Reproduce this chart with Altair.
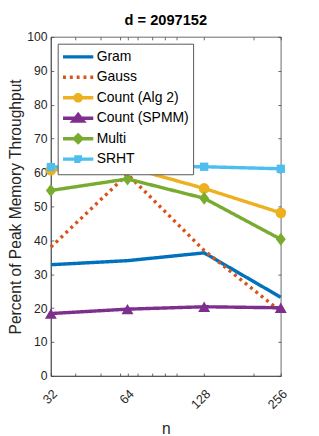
import altair as alt
import pandas as pd

# ---- data ----
n_values = [32, 64, 128, 256]
series_names = ["Gram", "Gauss", "Count (Alg 2)", "Count (SPMM)", "Multi", "SRHT"]
gram = [32.8, 34.0, 36.3, 23.2]
gauss = [38.0, 59.5, 37.0, 19.0]
count_alg2 = [60.7, 61.6, 55.3, 48.1]
count_spmm = [18.4, 19.7, 20.4, 20.1]
multi = [54.7, 58.1, 52.4, 40.3]
srht = [61.6, 61.9, 61.7, 61.1]

colors = ["#0072BD", "#D95319", "#EDB120", "#7E2F8E", "#77AC30", "#4DBEEE"]
dashes = [[1, 0], [3, 4], [1, 0], [1, 0], [1, 0], [1, 0]]
marker_series = ["Count (Alg 2)", "Count (SPMM)", "Multi", "SRHT"]
marker_shapes = ["circle", "triangle-up", "M0,-1.1L0.85,0L0,1.1L-0.85,0Z", "square"]
marker_sizes = [121, 150, 144, 72]
# legend glyphs: a line with the series' marker on it; the zero-length
# segments above/below give every entry the same height
_pad = "M0,-0.5L0,-0.5M0,0.5L0,0.5"
legend_shapes = [
    _pad + "M-2.07,0H2.07",
    _pad + "M-2.07,0H2.07",
    _pad + "M-2.07,0H2.07M-0.42,0A0.42,0.42,0,1,0,0.42,0A0.42,0.42,0,1,0,-0.42,0Z",
    _pad + "M-2.07,0H2.07M0,-0.5L0.7,0.4L-0.7,0.4Z",
    _pad + "M-2.07,0H2.07M0,-0.5L0.5,0L0,0.5L-0.5,0Z",
    _pad + "M-2.07,0H2.07M-0.3,-0.3H0.3V0.3H-0.3Z",
]

y_ticks = list(range(0, 101, 10))
x_major = [32, 64, 128, 256]
x_minor = [32, 40, 50, 60, 64, 70, 80, 90, 100, 128, 200, 256]

all_values = [gram, gauss, count_alg2, count_spmm, multi, srht]
rows = []
for name, vals in zip(series_names, all_values):
    for n, v in zip(n_values, vals):
        rows.append({"n": n, "value": v, "series": name})
df = pd.DataFrame(rows)

FONT = "Liberation Sans"
TXT = "#262626"

xscale = alt.Scale(type="log", base=2, domain=[32, 256], nice=False)
yscale = alt.Scale(domain=[0, 100], nice=False)
cscale = alt.Scale(domain=series_names, range=colors)
dscale = alt.Scale(domain=series_names, range=dashes)

tick_axis = dict(labels=False, domain=False, title=None, grid=False,
                 tickSize=3, tickColor="#404040", tickWidth=0.8)

# invisible layer carrying the inward ticks of the top and right sides
ghost = alt.Chart(df).mark_line(opacity=0).encode(
    x=alt.X("n:Q", scale=xscale,
            axis=alt.Axis(orient="top", offset=-3, values=x_minor, **tick_axis)),
    y=alt.Y("value:Q", scale=yscale,
            axis=alt.Axis(orient="right", offset=-3, values=y_ticks, **tick_axis)),
    detail="series:N",
)

main_x_axis = alt.Axis(
    orient="bottom", values=x_major, tickSize=0,
    labelAngle=315, labelAlign="right", labelBaseline="middle",
    labelPadding=16, labelOffset=4, labelFont=FONT, labelFontSize=13,
    labelColor=TXT, title="n", titleFont=FONT, titleFontSize=16,
    titleFontWeight="normal", titleColor=TXT, titlePadding=10,
    domainColor="#404040", domainWidth=0.8, grid=False,
)
main_y_axis = alt.Axis(
    orient="left", values=y_ticks, tickSize=0, labelPadding=4,
    labelFont=FONT, labelFontSize=12.5, labelColor=TXT,
    title="Percent of Peak Memory Throughput", titleFont=FONT,
    titleFontSize=16, titleFontWeight="normal", titleColor=TXT,
    titlePadding=3, domainColor="#404040", domainWidth=0.8, grid=False,
)

line_layers = []
for i, (name, col, dash) in enumerate(zip(series_names, colors, dashes)):
    layer = (
        alt.Chart(df)
        .transform_filter(alt.datum.series == name)
        .mark_line(strokeWidth=3.5, strokeCap="butt", color=col, strokeDash=dash)
        .encode(
            x=alt.X("n:Q", scale=xscale, axis=main_x_axis if i == 0 else None),
            y=alt.Y("value:Q", scale=yscale, axis=main_y_axis if i == 0 else None),
            order="n:Q",
        )
    )
    line_layers.append(layer)

point_layers = []
for i, (name, shp, sz) in enumerate(zip(marker_series, marker_shapes, marker_sizes)):
    col = colors[series_names.index(name)]
    if i == 0:
        xax = alt.Axis(orient="bottom", offset=-3, values=x_minor, **tick_axis)
        yax = alt.Axis(orient="left", offset=-3, values=y_ticks, **tick_axis)
    else:
        xax = None
        yax = None
    layer = (
        alt.Chart(df)
        .transform_filter(alt.datum.series == name)
        .mark_point(filled=True, opacity=1, shape=shp, size=sz, color=col)
        .encode(
            x=alt.X("n:Q", scale=xscale, axis=xax),
            y=alt.Y("value:Q", scale=yscale, axis=yax),
        )
    )
    point_layers.append(layer)

# legend-only layer (no rows pass the filter; the scales carry the entries)
legend_layer = (
    alt.Chart(df)
    .transform_filter("datum.n < 0")
    .mark_point(filled=True, opacity=1, size=225, strokeWidth=3.5)
    .encode(
        x=alt.X("n:Q", scale=xscale, axis=None),
        y=alt.Y("value:Q", scale=yscale, axis=None),
        color=alt.Color(
            "series:N", scale=cscale, sort=series_names,
            legend=alt.Legend(
                title=None, orient="top-left", offset=7,
                labelFont=FONT, labelFontSize=14.3, labelColor="black",
                labelOffset=9.5, symbolOffset=7.5, rowPadding=-4.3, padding=4,
                fillColor="white", strokeColor="#555555",
                symbolOpacity=1, symbolStrokeWidth=3.5, symbolSize=225,
            ),
        ),
        stroke=alt.Stroke("series:N", scale=cscale, sort=series_names,
                          legend=alt.Legend(title=None, orient="top-left")),
        strokeDash=alt.StrokeDash("series:N", scale=dscale, sort=series_names,
                                  legend=alt.Legend(title=None, orient="top-left")),
        shape=alt.Shape("series:N",
                        scale=alt.Scale(domain=series_names, range=legend_shapes),
                        sort=series_names,
                        legend=alt.Legend(title=None, orient="top-left")),
    )
)

chart = (
    alt.layer(ghost, *line_layers, *point_layers, legend_layer)
    .resolve_axis(x="independent", y="independent")
    .properties(
        width=236,
        height=348,
        autosize=alt.AutoSizeParams(type="none"),
        padding={"left": 44, "top": 24, "right": 31, "bottom": 56},
        title=alt.TitleParams(
            "d = 2097152", font=FONT, fontSize=15, fontWeight="bold",
            color="black", anchor="middle", frame="group", offset=3,
        ),
        background="white",
    )
    .configure_view(stroke="#404040", strokeWidth=0.8)
)

chart.save("out.html", embed_options={"renderer": "svg", "actions": False})
